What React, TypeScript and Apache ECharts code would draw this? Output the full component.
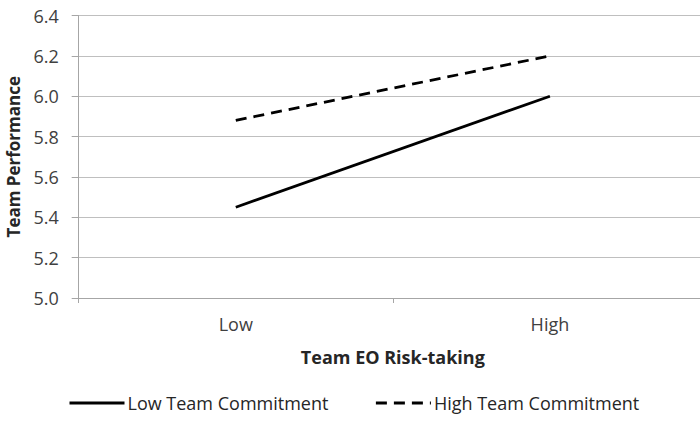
import React, { useEffect, useRef } from "react";
import * as echarts from "echarts";

const categories = ["Low", "High"];
const lowCommitment = [5.45, 6.0];
const highCommitment = [5.88, 6.2];
const seriesNames = ["Low Team Commitment", "High Team Commitment"];
const yMin = 5.0;
const yMax = 6.4;
const yStep = 0.2;
const xTitle = "Team EO Risk-taking";
const yTitle = "Team Performance";

const FONT = "'Open Sans', 'Noto Sans', sans-serif";

export default function App() {
  const ref = useRef<HTMLDivElement>(null);
  useEffect(() => {
    if (!ref.current) return;
    const chart = echarts.init(ref.current, null, { renderer: "svg" });
    chart.setOption({
      animation: false,
      backgroundColor: "#ffffff",
      textStyle: { fontFamily: FONT },
      grid: {
        left: 78.7,
        top: 15.5,
        right: -7,
        bottom: 126,
        containLabel: false,
        outerBoundsMode: "none",
      },
      legend: {
        left: 63,
        top: 389,
        itemWidth: 55,
        itemHeight: 14,
        itemGap: 46,
        itemStyle: { opacity: 0 },
        lineStyle: { width: 3 },
        textStyle: { fontFamily: FONT, fontSize: 18, color: "#262626", padding: [0, 0, 0, -2] },
        data: seriesNames,
      },
      xAxis: {
        type: "category",
        data: categories,
        boundaryGap: true,
        name: xTitle,
        nameLocation: "middle",
        nameGap: 50,
        nameTextStyle: { fontFamily: FONT, fontSize: 18, fontWeight: "bold", color: "#262626" },
        axisLine: { lineStyle: { color: "#a6a6a6", width: 1 } },
        axisTick: { show: true, inside: false, length: 5, lineStyle: { color: "#a6a6a6" } },
        axisLabel: { margin: 17, fontFamily: FONT, fontSize: 18, color: "#404040" },
        splitLine: { show: false },
      },
      yAxis: {
        type: "value",
        min: yMin,
        max: yMax,
        interval: yStep,
        name: yTitle,
        nameLocation: "middle",
        nameGap: 55,
        nameRotate: 90,
        nameTextStyle: { fontFamily: FONT, fontSize: 17, fontWeight: "bold", color: "#262626" },
        axisLine: { show: true, lineStyle: { color: "#a6a6a6", width: 1 } },
        axisTick: { show: true, inside: false, length: 7, lineStyle: { color: "#a6a6a6" } },
        axisLabel: {
          margin: 20,
          fontFamily: FONT,
          fontSize: 18,
          color: "#404040",
          formatter: (v: number) => v.toFixed(1),
        },
        splitLine: { show: true, lineStyle: { color: "#bfbfbf", width: 1 } },
      },
      series: [
        {
          name: seriesNames[0],
          type: "line",
          data: lowCommitment,
          symbol: "none",
          color: "#000000",
          lineStyle: { color: "#000000", width: 2.75, type: "solid" },
        },
        {
          name: seriesNames[1],
          type: "line",
          data: highCommitment,
          symbol: "none",
          color: "#000000",
          lineStyle: { color: "#000000", width: 2.75, type: [11, 7] },
        },
      ],
    });
    return () => chart.dispose();
  }, []);
  return (
    <div
      ref={ref}
      style={{ position: "fixed", left: 0, top: 0, width: 700, height: 424, background: "#fff" }}
    />
  );
}
